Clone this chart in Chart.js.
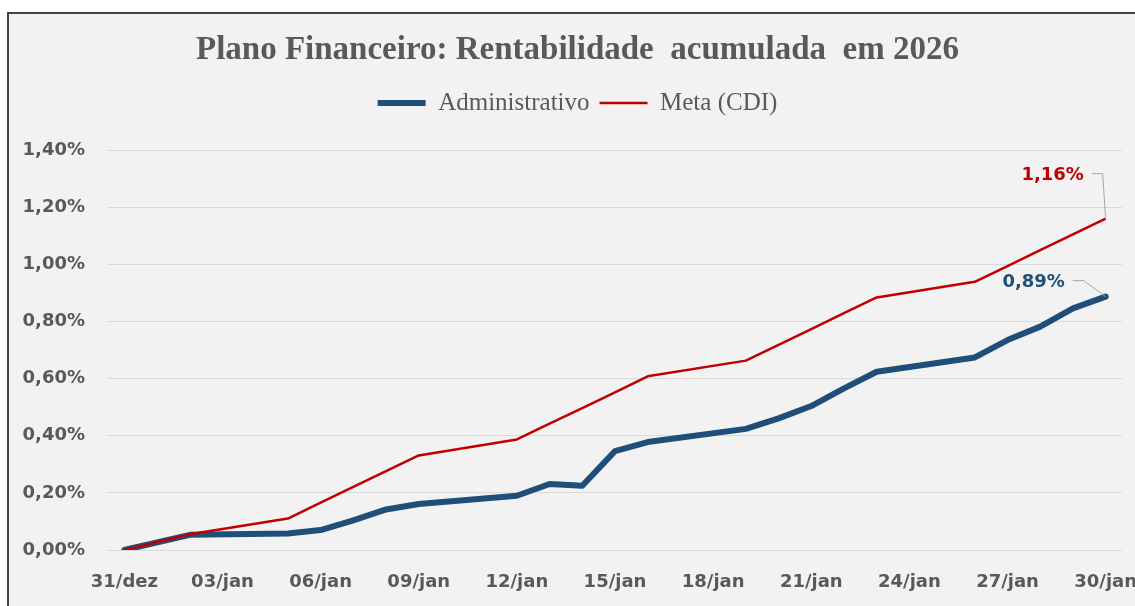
<!DOCTYPE html>
<html><head><meta charset="utf-8">
<script src="https://cdn.jsdelivr.net/npm/chart.js@4.4.1/dist/chart.umd.min.js"></script>
<style>
html,body{margin:0;padding:0;background:#fff;width:1135px;height:606px;overflow:hidden}
#frame{position:absolute;left:7px;top:12px;width:1200px;height:700px;background:#F2F2F2;border-left:2px solid #444;border-top:2px solid #444;box-sizing:border-box}
#wrap{position:absolute;left:0;top:0;width:1155px;height:606px}
</style></head><body>
<div id="frame"></div>
<div id="wrap"><canvas id="c"></canvas></div>
<script>
const categories = ['31/dez','01/jan','02/jan','03/jan','04/jan','05/jan','06/jan','07/jan','08/jan','09/jan','10/jan','11/jan','12/jan','13/jan','14/jan','15/jan','16/jan','17/jan','18/jan','19/jan','20/jan','21/jan','22/jan','23/jan','24/jan','25/jan','26/jan','27/jan','28/jan','29/jan','30/jan'];
const administrativo = [0, null, 0.053, null, null, 0.058, 0.070, 0.104, 0.142, 0.161, null, null, 0.190, 0.231, 0.225, 0.346, 0.378, null, null, 0.424, 0.461, 0.504, 0.566, 0.624, null, null, 0.674, 0.735, 0.782, 0.846, 0.887];
const metaCDI = [0, null, 0.055, null, null, 0.110, 0.166, 0.221, 0.276, 0.331, null, null, 0.387, 0.442, 0.497, 0.552, 0.608, null, null, 0.663, 0.718, 0.773, 0.829, 0.884, null, null, 0.939, 0.994, 1.050, 1.105, 1.160];
const seriesNames = ['Administrativo', 'Meta (CDI)'];
const chartTitle = 'Plano Financeiro: Rentabilidade  acumulada  em 2026';
const yMin = 0, yMax = 1.4, yStep = 0.2;

const fmtPct = v => v.toFixed(2).replace('.', ',') + '%';

const endLabels = {
  id: 'endLabels',
  afterDatasetsDraw(chart) {
    const ctx = chart.ctx;
    const cfg = [
      {ds: 0, color: '#1F4E79', tx: -72, ty: -14, l1: [-33, -16], l2: [-22, -16]},
      {ds: 1, color: '#C00000', tx: -53, ty: -43, l1: [-14, -45], l2: [-3, -45]}
    ];
    ctx.save();
    cfg.forEach(c => {
      const meta = chart.getDatasetMeta(c.ds);
      const data = chart.data.datasets[c.ds].data;
      const i = data.length - 1;
      const p = meta.data[i];
      ctx.strokeStyle = '#A6A6A6';
      ctx.lineWidth = 1;
      ctx.beginPath();
      ctx.moveTo(p.x + c.l1[0], p.y + c.l1[1]);
      ctx.lineTo(p.x + c.l2[0], p.y + c.l2[1]);
      ctx.lineTo(p.x, p.y);
      ctx.stroke();
      ctx.fillStyle = c.color;
      ctx.font = 'bold 18px "DejaVu Sans"';
      ctx.textAlign = 'center';
      ctx.textBaseline = 'middle';
      ctx.fillText(fmtPct(data[i]), p.x + c.tx, p.y + c.ty);
    });
    ctx.restore();
  }
};

new Chart(document.getElementById('c'), {
  type: 'line',
  data: {
    labels: categories,
    datasets: [
      {label: seriesNames[0], data: administrativo, borderColor: '#1F4E79', backgroundColor: '#1F4E79', borderWidth: 6, borderCapStyle: 'round', borderJoinStyle: 'round', pointRadius: 0, spanGaps: true, tension: 0, order: 1},
      {label: seriesNames[1], data: metaCDI, borderColor: '#C00000', backgroundColor: '#C00000', borderWidth: 2.5, borderJoinStyle: 'round', pointRadius: 0, spanGaps: true, tension: 0, order: 0}
    ]
  },
  options: {
    responsive: true,
    maintainAspectRatio: false,
    animation: false,
    devicePixelRatio: 1,
    layout: {padding: {left: 0, right: 0, top: 0, bottom: 0}},
    plugins: {
      tooltip: {enabled: false},
      title: {
        display: true, text: chartTitle, color: '#595959',
        font: {family: 'Liberation Serif', size: 33, weight: 'bold'},
        padding: {top: 31, bottom: 10}
      },
      subtitle: {
        display: true, text: '', weight: 500, position: 'top',
        font: {size: 10, lineHeight: 1.2},
        padding: {top: 12.5, bottom: 0}
      },
      legend: {
        display: true, position: 'top',
        labels: {
          color: '#595959', font: {family: 'Liberation Serif', size: 25},
          usePointStyle: true, pointStyle: 'line', pointStyleWidth: 48, padding: 10,
          sort: (a, b) => a.datasetIndex - b.datasetIndex
        }
      }
    },
    scales: {
      x: {
        type: 'category',
        offset: true,
        grid: {display: false, drawTicks: false},
        border: {display: false},
        ticks: {
          autoSkip: false, maxRotation: 0, minRotation: 0, padding: 22,
          color: '#595959', font: {family: 'DejaVu Sans', size: 18, weight: 'bold'},
          callback: function(v, i) { return i % 3 === 0 ? this.getLabelForValue(v) : ''; }
        },
        afterFit: s => { s.height = 56; s.paddingLeft = 0; s.paddingRight = 33; }
      },
      y: {
        min: yMin, max: yMax,
        grid: {color: '#D9D9D9', lineWidth: 1, drawTicks: false},
        border: {display: false},
        ticks: {
          stepSize: yStep, padding: 23,
          color: '#595959', font: {family: 'DejaVu Sans', size: 18, weight: 'bold'},
          callback: v => fmtPct(v)
        },
        afterFit: s => { s.width = 108; s.paddingTop = 150; }
      }
    }
  },
  plugins: [endLabels]
});
</script>
</body></html>
